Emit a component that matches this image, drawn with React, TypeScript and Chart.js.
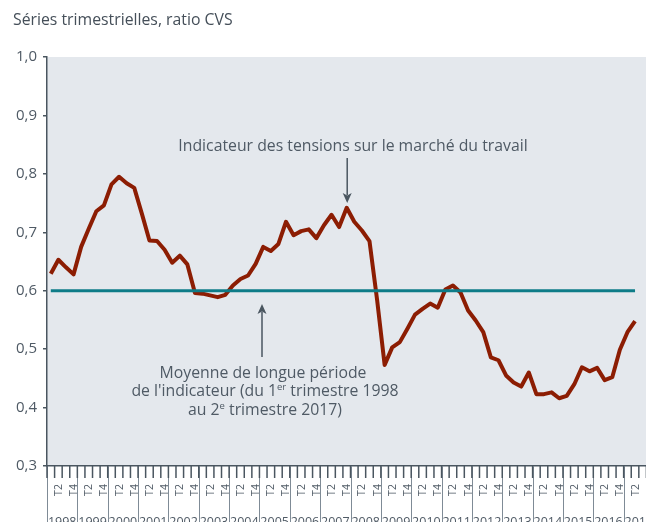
import React, { useEffect, useRef } from "react";
import { Chart, registerables } from "chart.js";

Chart.register(...registerables);

const TITLE = "Séries trimestrielles, ratio CVS";
const YEARS = [1998, 1999, 2000, 2001, 2002, 2003, 2004, 2005, 2006, 2007, 2008, 2009, 2010, 2011, 2012, 2013, 2014, 2015, 2016, 2017];
const QUARTERS = ["T1", "T2", "T3", "T4"];
const SHOWN_QUARTERS = ["T2", "T4"];

// Indicateur des tensions sur le marché du travail, 1998 T1 -> 2017 T2
const INDICATOR = [
  0.629, 0.653, 0.640, 0.628,
  0.675, 0.706, 0.736, 0.746,
  0.782, 0.795, 0.784, 0.776,
  0.732, 0.686, 0.685, 0.670,
  0.648, 0.660, 0.645, 0.596,
  0.595, 0.592, 0.589, 0.593,
  0.609, 0.620, 0.626, 0.646,
  0.675, 0.668, 0.680, 0.718,
  0.695, 0.702, 0.705, 0.690,
  0.712, 0.730, 0.709, 0.742,
  0.718, 0.703, 0.685, 0.585,
  0.473, 0.503, 0.512, 0.535,
  0.559, 0.569, 0.578, 0.571,
  0.602, 0.609, 0.597, 0.566,
  0.549, 0.529, 0.486, 0.481,
  0.455, 0.443, 0.436, 0.460,
  0.423, 0.423, 0.426, 0.416,
  0.420, 0.440, 0.469, 0.462,
  0.468, 0.447, 0.452, 0.499,
  0.529, 0.548,
];
const LONG_TERM_MEAN = 0.6;

const Y_MIN = 0.3;
const Y_MAX = 1.0;
const Y_STEP = 0.1;

const ANNOT_TOP = "Indicateur des tensions sur le marché du travail";
const ANNOT_BOTTOM_1 = "Moyenne de longue période";
const ANNOT_BOTTOM_2 = ["de l'indicateur (du 1", "er", " trimestre 1998"];
const ANNOT_BOTTOM_3 = ["au 2", "e", " trimestre 2017)"];

const LABELS: string[] = [];
YEARS.forEach((y) => QUARTERS.forEach((q) => LABELS.push(`${y} ${q}`)));
const MEAN_SERIES = INDICATOR.map(() => LONG_TERM_MEAN);

const FONT = "'Open Sans', 'Noto Sans', sans-serif";
const AXIS = "#4a5660";
const TEXT = "#4f5a65";
const BG = "#e4e8ed";
const RED = "#8c1d03";
const TEAL = "#0e7c88";
const ANN_SIZE = 15.8;

function drawSupLine(ctx: CanvasRenderingContext2D, parts: string[], cx: number, y: number, size: number) {
  ctx.font = `${size}px ${FONT}`;
  const w1 = ctx.measureText(parts[0]).width;
  const w3 = ctx.measureText(parts[2]).width;
  ctx.font = `${size * 0.6}px ${FONT}`;
  const w2 = ctx.measureText(parts[1]).width;
  let x = cx - (w1 + w2 + w3) / 2;
  ctx.textAlign = "left";
  ctx.font = `${size}px ${FONT}`;
  ctx.fillText(parts[0], x, y);
  x += w1;
  ctx.font = `${size * 0.6}px ${FONT}`;
  ctx.fillText(parts[1], x, y - size * 0.36);
  x += w2;
  ctx.font = `${size}px ${FONT}`;
  ctx.fillText(parts[2], x, y);
}

function arrow(ctx: CanvasRenderingContext2D, x: number, y0: number, y1: number) {
  const dir = y1 > y0 ? 1 : -1;
  ctx.strokeStyle = AXIS;
  ctx.fillStyle = AXIS;
  ctx.lineWidth = 1.5;
  ctx.beginPath();
  ctx.moveTo(x, y0);
  ctx.lineTo(x, y1 - dir * 8);
  ctx.stroke();
  ctx.beginPath();
  ctx.moveTo(x, y1);
  ctx.lineTo(x - 4.5, y1 - dir * 10);
  ctx.lineTo(x, y1 - dir * 7.5);
  ctx.lineTo(x + 4.5, y1 - dir * 10);
  ctx.closePath();
  ctx.fill();
}

const decorPlugin = {
  id: "decor",
  beforeDraw(chart: any) {
    const { ctx, chartArea } = chart;
    ctx.save();
    ctx.fillStyle = "#ffffff";
    ctx.fillRect(0, 0, chart.width, chart.height);
    ctx.fillStyle = BG;
    ctx.fillRect(chartArea.left, chartArea.top, chart.width - chartArea.left, chartArea.bottom - chartArea.top);
    ctx.restore();
  },
  afterDraw(chart: any) {
    const { ctx, chartArea } = chart;
    const xs = chart.scales.x;
    const n = LABELS.length;
    const w = (xs.getPixelForValue(n - 1) - xs.getPixelForValue(0)) / (n - 1);
    const bottom = chartArea.bottom;
    ctx.save();
    // year separators
    ctx.strokeStyle = "#7f8b96";
    ctx.lineWidth = 1;
    YEARS.forEach((_, yi) => {
      const x = Math.round(xs.getPixelForValue(yi * 4) - w / 2) + 0.5;
      ctx.beginPath();
      ctx.moveTo(x, bottom);
      ctx.lineTo(x, chart.height);
      ctx.stroke();
    });
    // quarter ticks
    ctx.strokeStyle = AXIS;
    ctx.lineWidth = 1.5;
    for (let i = 0; i <= n; i++) {
      const x = xs.getPixelForValue(Math.min(i, n - 1)) + (i === n ? w / 2 : -w / 2);
      ctx.beginPath();
      ctx.moveTo(x, bottom);
      ctx.lineTo(x, bottom + 12);
      ctx.stroke();
    }
    // T2 / T4 labels
    ctx.fillStyle = TEXT;
    ctx.font = `10.5px ${FONT}`;
    ctx.textAlign = "center";
    ctx.textBaseline = "middle";
    LABELS.forEach((lab, i) => {
      const q = lab.split(" ")[1];
      if (!SHOWN_QUARTERS.includes(q)) return;
      const x = xs.getPixelForValue(i);
      ctx.save();
      ctx.translate(x + 0.5, bottom + 24);
      ctx.rotate(-Math.PI / 2);
      ctx.fillText(q, 0, 0);
      ctx.restore();
    });
    // year labels
    ctx.font = `12.5px ${FONT}`;
    ctx.textBaseline = "alphabetic";
    YEARS.forEach((y, yi) => {
      const x = (xs.getPixelForValue(yi * 4) + xs.getPixelForValue(yi * 4 + 3)) / 2;
      ctx.fillText(String(y), x, chart.height + 3.5);
    });
    // title
    ctx.textAlign = "left";
    ctx.fillStyle = "#454f59";
    ctx.font = `${ANN_SIZE}px ${FONT}`;
    ctx.fillText(TITLE, 13, 25);
    // annotations
    ctx.fillStyle = TEXT;
    ctx.textAlign = "center";
    ctx.font = `${ANN_SIZE}px ${FONT}`;
    ctx.fillText(ANNOT_TOP, 353, 151);
    arrow(ctx, xs.getPixelForValue(39) + 0.5, 158, 203);
    arrow(ctx, 262, 357, 304);
    ctx.fillStyle = TEXT;
    ctx.textAlign = "center";
    ctx.font = `${ANN_SIZE}px ${FONT}`;
    ctx.fillText(ANNOT_BOTTOM_1, 263, 377.5);
    drawSupLine(ctx, ANNOT_BOTTOM_2, 265, 396, ANN_SIZE);
    drawSupLine(ctx, ANNOT_BOTTOM_3, 265, 414.5, ANN_SIZE);
    ctx.restore();
  },
};

export default function App() {
  const ref = useRef<HTMLCanvasElement | null>(null);
  useEffect(() => {
    if (!ref.current) return;
    const chart = new Chart(ref.current, {
      type: "line",
      data: {
        labels: LABELS,
        datasets: [
          {
            label: "Moyenne de longue période",
            data: MEAN_SERIES,
            borderColor: TEAL,
            borderWidth: 3,
            pointRadius: 0,
            tension: 0,
          },
          {
            label: "Indicateur",
            data: INDICATOR,
            borderColor: RED,
            borderWidth: 4,
            pointRadius: 0,
            tension: 0,
            borderJoinStyle: "round",
          },
        ],
      },
      options: {
        responsive: false,
        animation: false,
        devicePixelRatio: 1,
        layout: { padding: { top: 57, right: 6, left: 0, bottom: 0 } },
        plugins: { legend: { display: false }, tooltip: { enabled: false }, title: { display: false } },
        scales: {
          x: {
            type: "category",
            offset: true,
            ticks: { display: false },
            grid: { display: false, drawTicks: false },
            border: { display: true, color: AXIS, width: 1.5 },
            afterFit: (s: any) => {
              s.height = 56;
            },
          },
          y: {
            min: Y_MIN,
            max: Y_MAX,
            ticks: {
              stepSize: Y_STEP,
              padding: 6,
              color: TEXT,
              font: { family: FONT, size: 15 },
              callback: (v: any) => Number(v).toFixed(1).replace(".", ","),
            },
            grid: { drawOnChartArea: false, tickLength: 4, color: AXIS, lineWidth: 1.5 },
            border: { display: true, color: AXIS, width: 1.5 },
            afterFit: (s: any) => {
              s.width = 47;
            },
          },
        },
      },
      plugins: [decorPlugin],
    } as any);
    return () => chart.destroy();
  }, []);
  return (
    <div style={{ position: "fixed", left: 0, top: 0, width: 646, height: 522, overflow: "hidden", background: "#fff" }}>
      <canvas ref={ref} width={660} height={522} style={{ display: "block", width: 660, height: 522 }} />
    </div>
  );
}
